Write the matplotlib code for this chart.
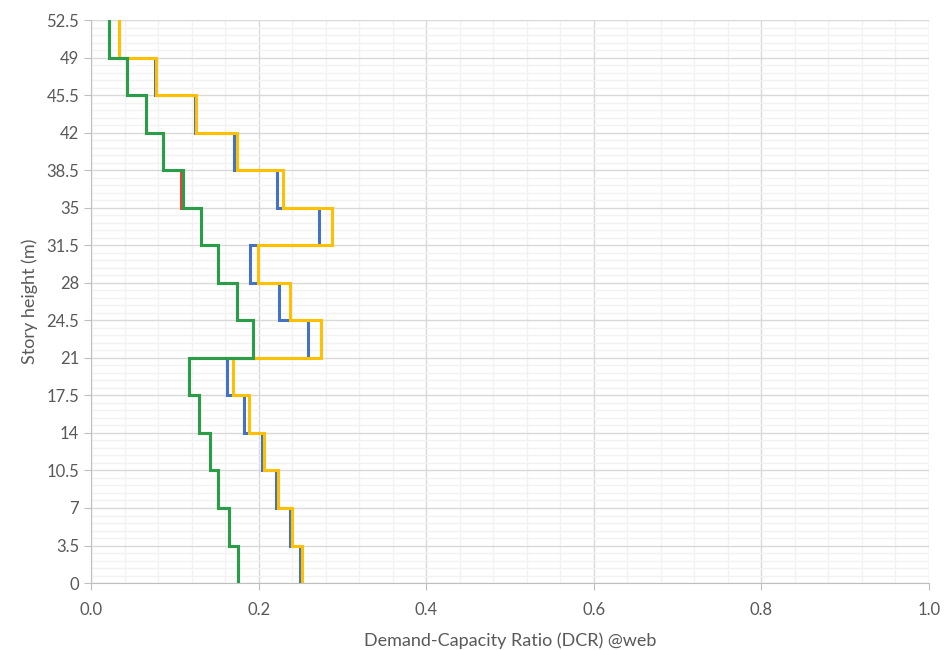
import numpy as np
import matplotlib.pyplot as plt
import matplotlib.ticker as ticker

plt.rcParams['font.family'] = ['Lato', 'DejaVu Sans']

# story levels (m) and DCR values per story, bottom to top
levels = [0, 3.5, 7, 10.5, 14, 17.5, 21, 24.5, 28, 31.5, 35, 38.5, 42, 45.5, 49, 52.5]
dcr_blue = [0.249, 0.2375, 0.221, 0.204, 0.183, 0.162, 0.259, 0.224, 0.190, 0.272,
            0.222, 0.171, 0.124, 0.076, 0.033]
dcr_red = [0.175, 0.165, 0.152, 0.142, 0.129, 0.117, 0.193, 0.174, 0.152, 0.131,
           0.1075, 0.086, 0.066, 0.043, 0.021]
dcr_yellow = [0.252, 0.240, 0.223, 0.2065, 0.1885, 0.1695, 0.2745, 0.2375, 0.199, 0.2875,
              0.229, 0.174, 0.125, 0.0775, 0.0335]
dcr_green = [0.1755, 0.1645, 0.1515, 0.142, 0.129, 0.117, 0.1935, 0.174, 0.152, 0.131,
             0.1095, 0.086, 0.066, 0.043, 0.021]

series = [(dcr_blue, '#4472C4'), (dcr_red, '#EA4335'),
          (dcr_yellow, '#FFC000'), (dcr_green, '#2A9D48')]

def stair(vals):
    x = np.repeat(vals, 2)
    y = np.column_stack([levels[:-1], levels[1:]]).ravel()
    return x, y

fig = plt.figure(figsize=(9.44, 6.5), dpi=100)
ax = fig.add_axes([0.0964, 0.103, 0.8877, 0.866])

for vals, c in series:
    x, y = stair(vals)
    ax.plot(x, y, color=c, lw=2.2, solid_joinstyle='miter', zorder=3)

ax.set_xlim(0, 1.0)
ax.set_ylim(0, 52.5)
ax.xaxis.set_major_locator(ticker.MultipleLocator(0.2))
ax.xaxis.set_minor_locator(ticker.MultipleLocator(0.04))
ax.yaxis.set_major_locator(ticker.MultipleLocator(3.5))
ax.yaxis.set_minor_locator(ticker.MultipleLocator(0.7))
ax.xaxis.set_major_formatter(ticker.FormatStrFormatter('%.1f'))
ax.yaxis.set_major_formatter(ticker.FuncFormatter(lambda v, p: '%g' % v))

ax.grid(which='major', color='#D9D9D9', lw=1.0, zorder=0)
ax.grid(which='minor', color='#F2F2F2', lw=1.0, zorder=0)
ax.set_axisbelow(True)

for s in ['top', 'right']:
    ax.spines[s].set_visible(False)
for s in ['left', 'bottom']:
    ax.spines[s].set_color('#BFBFBF')

ax.tick_params(axis='both', which='major', labelsize=12, colors='#BFBFBF',
               labelcolor='#595959', length=5, direction='out')
ax.tick_params(axis='both', which='minor', length=0)
ax.tick_params(axis='x', pad=9)

ax.set_xlabel('Demand-Capacity Ratio (DCR) @web', fontsize=13, color='#595959', labelpad=10)
ax.set_ylabel('Story height (m)', fontsize=13, color='#595959', labelpad=6)

fig.savefig('out.png', dpi=100)
